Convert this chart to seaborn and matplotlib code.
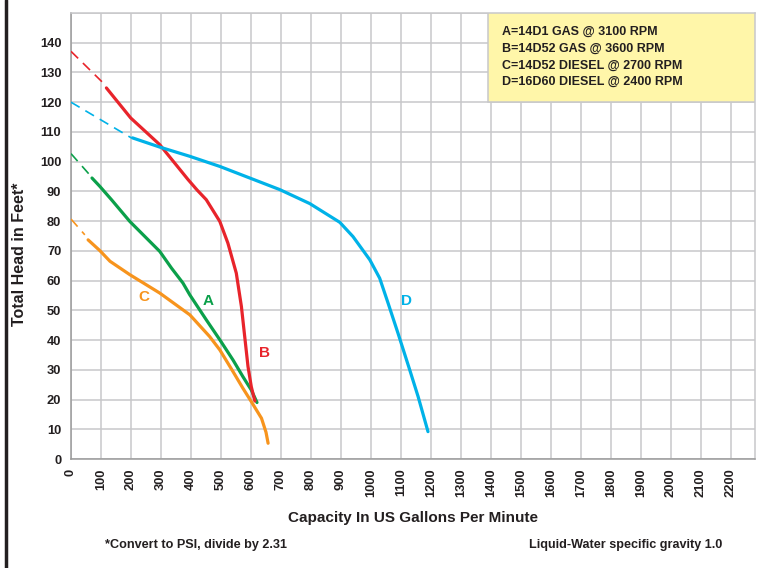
import matplotlib.pyplot as plt
import matplotlib.lines as mlines
import matplotlib.patches as mpatches
import seaborn as sns

# curve data (capacity gpm, head ft)
a_dash_x = [0, 62]
a_dash_y = [102.7, 95.6]
a_x = [70, 96, 135, 196, 296, 335, 373, 396, 451, 496, 540, 573, 601, 620]
a_y = [94.5, 91.7, 87.2, 79.9, 69.8, 64.2, 59.2, 55.2, 46.8, 40.1, 33.3, 27.7, 23.2, 19]

b_dash_x = [0, 112]
b_dash_y = [137.1, 126]
b_x = [118, 199, 296, 390, 420, 451, 496, 523, 551, 568, 579, 590, 601, 609, 613]
b_y = [124.8, 114.7, 105.7, 94, 90.5, 87.2, 79.9, 72.6, 62.5, 51.3, 41.2, 31.1, 24.3, 21, 19.5]

c_dash_x = [0, 46]
c_dash_y = [80.7, 75.4]
c_x = [57, 96, 130, 196, 296, 396, 462, 496, 540, 573, 601, 635, 650, 657]
c_y = [73.7, 70.1, 66.5, 62, 55.8, 48.5, 41.2, 36.7, 29.4, 23.8, 19.3, 13.7, 9, 5.3]

d_dash_x = [0, 201]
d_dash_y = [120, 108]
d_x = [205, 296, 396, 496, 596, 696, 796, 896, 940, 996, 1029, 1057, 1090, 1129, 1157, 1190]
d_y = [108, 104.9, 101.8, 98.4, 94.5, 90.6, 85.9, 79.6, 74.8, 67, 60.8, 52.4, 42.3, 30, 21, 9.2]

curve_names = ["A", "B", "C", "D"]
label_x = [458, 645, 242, 1119]
label_y = [53, 35.5, 54.5, 53]
legend_lines = ["A=14D1 GAS @ 3100 RPM", "B=14D52 GAS @ 3600 RPM",
                "C=14D52 DIESEL @ 2700 RPM", "D=16D60 DIESEL @ 2400 RPM"]
x_ticks = list(range(0, 2300, 100))
y_ticks = list(range(0, 150, 10))

colors = {"A": "#0BA04A", "B": "#E8242B", "C": "#F7941D", "D": "#00B2E8"}

sns.set_style("white")
plt.rcParams['font.family'] = ['Liberation Sans', 'DejaVu Sans']

fig = plt.figure(figsize=(7.58, 5.68), dpi=100)
ax = fig.add_axes([71 / 758, 1 - 459 / 568, 684 / 758, 446 / 568])

curves = {
    "A": (a_dash_x, a_dash_y, a_x, a_y),
    "B": (b_dash_x, b_dash_y, b_x, b_y),
    "C": (c_dash_x, c_dash_y, c_x, c_y),
    "D": (d_dash_x, d_dash_y, d_x, d_y),
}
for name, (dx, dy, sx, sy) in curves.items():
    col = colors[name]
    sns.lineplot(x=dx, y=dy, ax=ax, color=col, linewidth=1.2, sort=False,
                 linestyle=(0, (6, 4)), zorder=3)
    sns.lineplot(x=sx, y=sy, ax=ax, color=col, linewidth=2.3, sort=False, zorder=3)

for line in ax.get_lines():
    line.set_solid_joinstyle('round')

for name, lx, ly in zip(curve_names, label_x, label_y):
    ax.text(lx, ly, name, color=colors[name], fontsize=11, fontweight='bold',
            ha='center', va='center', zorder=4)

ax.set_xlim(0, 2280)
ax.set_ylim(0, 150)
ax.set_xticks(x_ticks)
ax.set_yticks(y_ticks)
ax.set_xticklabels([str(t) for t in x_ticks], rotation=90, fontsize=9.3, fontweight='bold', color='#231F20')
ax.set_yticklabels([str(t) for t in y_ticks], fontsize=9.3, fontweight='bold', color='#231F20')
ax.yaxis.set_minor_locator(plt.MultipleLocator(10))
ax.grid(True, which='both', color='#C8C8CA', linewidth=1.1)
ax.tick_params(axis='both', length=4, width=1, color='#9A9A9A', pad=3)
for s in ax.spines.values():
    s.set_color('#C8C8CA')
    s.set_linewidth(1.1)
ax.spines['left'].set_color('#9A9A9A')
ax.spines['bottom'].set_color('#9A9A9A')

# legend box drawn in data coords
box = mpatches.Rectangle((1390, 120.2), 900, 30, facecolor='#FFF6A9',
                         edgecolor='#C8C8CA', linewidth=1.1, zorder=2.5)
ax.add_patch(box)
for i, txt in enumerate(legend_lines):
    fig.text(502 / 758, 1 - (32 + i * 16.7) / 568, txt, fontsize=9, fontweight='bold',
             color='#231F20', ha='left', va='center')

fig.text(413 / 758, 1 - 518 / 568, "Capacity In US Gallons Per Minute",
         fontsize=11, fontweight='bold', color='#231F20', ha='center', va='center')
fig.text(20 / 758, 1 - 254 / 568, "Total Head in Feet*", rotation=90,
         fontsize=11.5, fontweight='bold', color='#231F20', ha='center', va='center')
fig.text(105 / 758, 1 - 545 / 568, "*Convert to PSI, divide by 2.31",
         fontsize=9.1, fontweight='bold', color='#231F20', ha='left', va='center')
fig.text(722 / 758, 1 - 545 / 568, "Liquid-Water specific gravity 1.0",
         fontsize=9.1, fontweight='bold', color='#231F20', ha='right', va='center')

fig.add_artist(mlines.Line2D([6 / 758, 6 / 758], [0, 1], color='#231F20', linewidth=2.5))

plt.savefig("out.png", dpi=100)
